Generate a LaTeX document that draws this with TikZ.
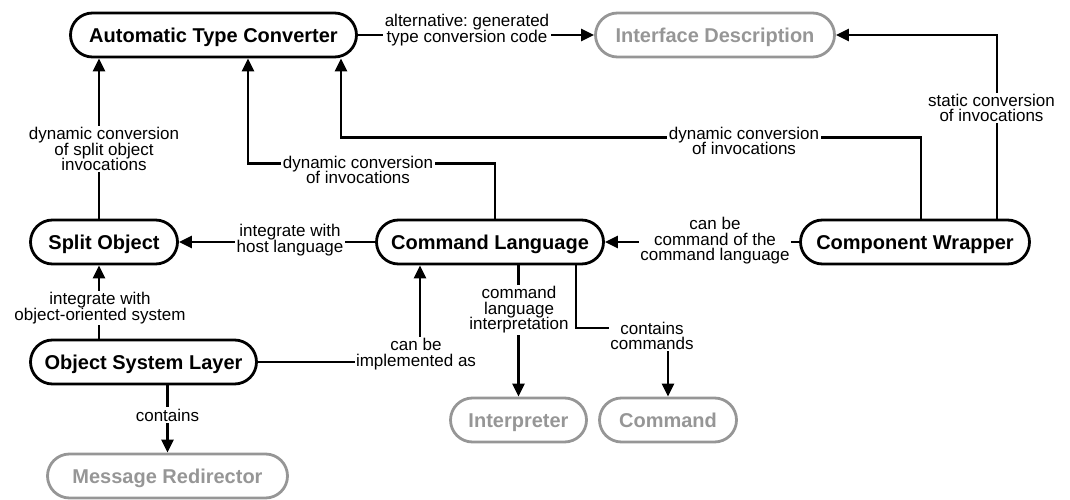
\documentclass[tikz,border=0pt]{standalone}
\usepackage{fontspec}
\setmainfont{Liberation Sans}
\usetikzlibrary{arrows.meta}
\definecolor{fadegray}{RGB}{150,150,150}
\newcommand{\lblfont}{\fontsize{17}{15.5}\selectfont\lineskiplimit -20pt\relax\frenchspacing}
\begin{document}
\begin{tikzpicture}[x=1pt,y=-1pt,
  box/.style={draw, line width=2.8pt, rounded corners=22pt, minimum height=44pt,
    font=\fontsize{20}{22}\selectfont\bfseries, inner sep=0pt,
    text height=18.5pt, text depth=4pt},
  faded/.style={box, draw=fadegray, text=fadegray},
  lbl/.style={fill=white, inner sep=1.5pt, align=center, font=\lblfont},
  arr/.style={line width=2.8pt, -{Triangle[length=13pt,width=12pt]}}]
\useasboundingbox (0,0) rectangle (1070,500);
% nodes
\node[box, minimum width=286pt] (atc) at (213.5,35) {Automatic Type Converter};
\node[faded, minimum width=239pt] (id) at (715,35) {Interface Description};
\node[box, minimum width=147pt] (so) at (104,242) {Split Object};
\node[box, minimum width=227pt] (cl) at (490,242) {Command Language};
\node[box, minimum width=229pt] (cw) at (915,242) {Component Wrapper};
\node[box, minimum width=226pt] (osl) at (143.5,362) {Object System Layer};
\node[faded, minimum width=240pt] (mr) at (167.5,476) {Message Redirector};
\node[faded, minimum width=136pt] (ip) at (518.5,420) {Interpreter};
\node[faded, minimum width=137pt] (cmd) at (668,420) {Command};
\coordinate (k) at (576,328);
% connectors
\draw[arr] (atc.east) -- (id.west);
\draw[arr] ([xshift=-5pt]so.north) -- ([xshift=-5pt]so.north |- atc.south);
\draw[arr] ([xshift=5pt]cl.north) -- ++(0,-55) -| ([xshift=34.5pt]atc.south);
\draw[arr] ([xshift=6pt]cw.north) -- ++(0,-81) -| ([xshift=127.5pt]atc.south);
\draw[arr] ([xshift=82pt]cw.north) |- (id.east);
\draw[arr] (cl.west) -- (so.east);
\draw[arr] (cw.west) -- (cl.east);
\draw[arr] ([xshift=-5pt]so.south |- osl.north) -- ([xshift=-5pt]so.south);
\draw[arr] (osl.east) -| ([xshift=-70pt]cl.south);
\draw[arr] (ip.north |- cl.south) -- (ip.north);
\draw[arr] (cl.south -| k) -- (k) -| (cmd.north);
\draw[arr] (osl.south -| mr.north) -- (mr.north);
% labels
\node[lbl] (l1) at (467,30) {alternative: generated\\type conversion code};
\node[lbl] (l2) at (104,149) {dynamic conversion\\of split object\\invocations};
\node[lbl] (l3) at (358,170) {dynamic conversion\\of invocations};
\node[lbl] (l4) at (744,141) {dynamic conversion\\of invocations};
\node[lbl] (l5) at (991.5,108) {static conversion\\of invocations};
\node[lbl] (l6) at (290,240) {integrate with\\host language};
\node[lbl] (l7) at (715,241) {can be\\command of the\\command language};
\node[lbl] (l8) at (100,308) {integrate with\\object-oriented system};
\node[lbl] (l9) at (416,354) {can be\\implemented as};
\node[lbl] (l10) at (519,310) {command\\language\\interpretation};
\node[lbl] (l11) at (652,336) {contains\\commands};
\node[lbl] (l12) at (167.5,415) {contains};
\end{tikzpicture}
\end{document}
